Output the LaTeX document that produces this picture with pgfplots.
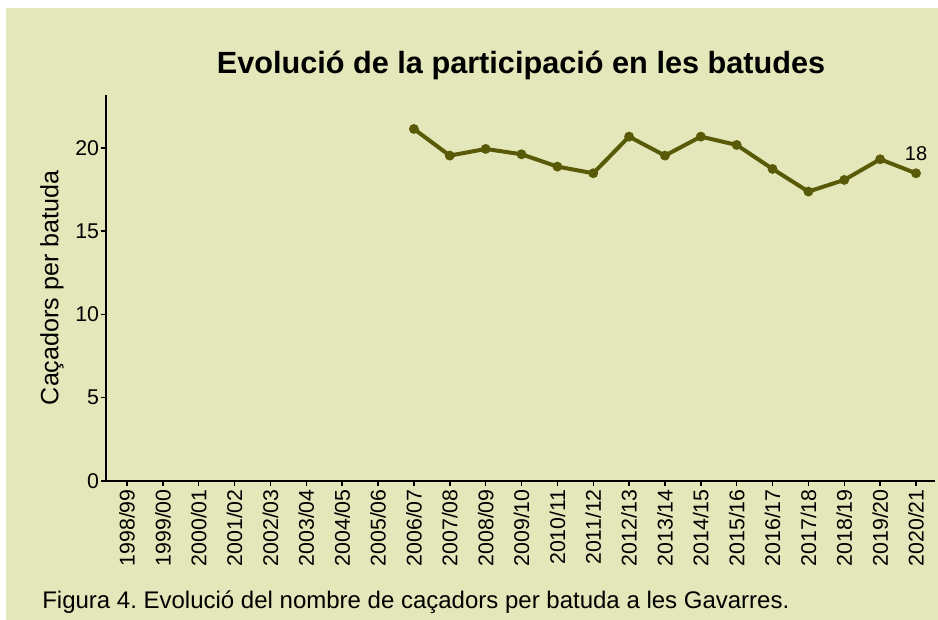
\documentclass[border=0pt]{standalone}
\usepackage{pgfplots}
\pgfplotsset{compat=1.18}
\usepackage{fontspec}
\setmainfont{Liberation Sans}
\frenchspacing
\definecolor{bgc}{RGB}{228,231,185}
\definecolor{linec}{RGB}{88,90,8}
\begin{document}
\begin{tikzpicture}
\useasboundingbox (0,0) rectangle (703.5pt,465pt);
\fill[white] (0,0) rectangle (703.5pt,465pt);
\fill[bgc] (4.5pt,0) rectangle (703.5pt,459pt);
\begin{axis}[
  at={(79.5pt,104.25pt)}, anchor=south west,
  scale only axis, width=621.75pt, height=289.5pt,
  xmin=-0.586, xmax=22.53, ymin=0, ymax=23.18,
  axis x line*=bottom, axis y line*=left,
  axis line style={line width=1.6pt, -},
  xtick={0,...,22},
  xticklabels={1998/99,1999/00,2000/01,2001/02,2002/03,2003/04,2004/05,2005/06,2006/07,2007/08,2008/09,2009/10,2010/11,2011/12,2012/13,2013/14,2014/15,2015/16,2016/17,2017/18,2018/19,2019/20,2020/21},
  ytick={0,5,10,15,20},
  tick align=outside, major tick length=4pt,
  tick style={line width=1.1pt, black},
  xticklabel style={rotate=90, anchor=east, font=\fontsize{16}{19}\selectfont, inner sep=2pt},
  yticklabel style={font=\fontsize{16}{19}\selectfont, inner sep=1pt},
  /pgf/number format/assume math mode=true,
  clip=false,
]
\addplot[linec, line width=3pt, mark=*, mark size=2.1pt, mark options={fill=linec, draw=linec}]
coordinates {
(8,21.14) (9,19.54) (10,19.94) (11,19.62) (12,18.88) (13,18.48) (14,20.68)
(15,19.54) (16,20.68) (17,20.18) (18,18.74) (19,17.38) (20,18.08) (21,19.32) (22,18.48)
};
\node[font=\fontsize{15}{18}\selectfont, yshift=15pt] at (axis cs:22,18.48) {18};
\end{axis}
\node[rotate=90, font=\fontsize{18.8}{22}\selectfont] at (39pt,249pt) {Caçadors per batuda};
\node[font=\bfseries\fontsize{23}{27}\selectfont] at (390.75pt,416.25pt) {Evolució de la participació en les batudes};
\node[anchor=west, inner sep=0pt, font=\fontsize{18}{21}\selectfont] at (31.5pt,13.5pt) {Figura 4. Evolució del nombre de caçadors per batuda a les Gavarres.};
\end{tikzpicture}
\end{document}
